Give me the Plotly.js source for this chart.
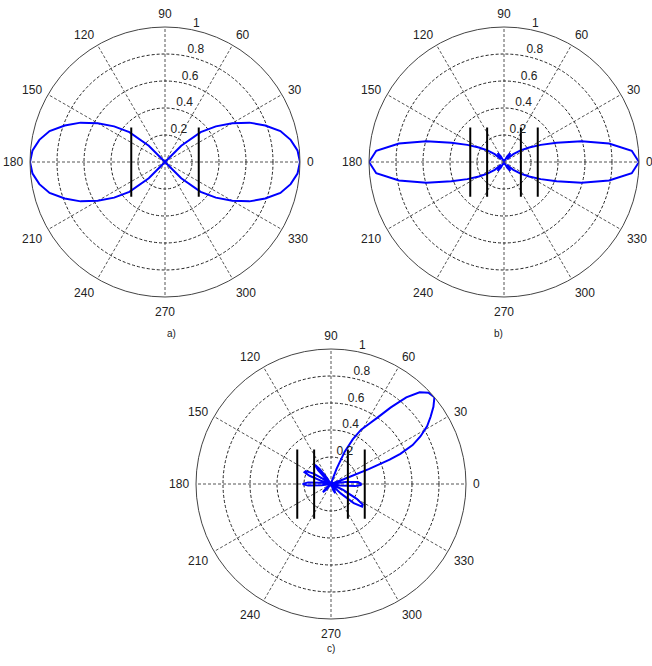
<!DOCTYPE html>
<html><head><meta charset="utf-8">
<script src="https://cdn.plot.ly/plotly-3.0.1.min.js"></script>
<style>html,body{margin:0;padding:0;background:#fff;}#chart{width:652px;height:666px;}</style>
</head><body><div id="chart"></div>
<script>
// ---- tick labels ----
const angleTicks = [0,30,60,90,120,150,180,210,240,270,300,330];
const angleTickText = ['0','30','60','90','120','150','180','210','240','270','300','330'];
const radialGrid = [0.2,0.4,0.6,0.8];
const radialLabelR = [0.2,0.4,0.6,0.8,1];
const radialLabelText = ['0.2','0.4','0.6','0.8','1'];
const radialLabelAngle = [78,78,78,78,78];
const captions = ['a)','b)','c)'];

// ---- pattern a) ----
const thetaA = [0,5,10,15,20,25,30,35,40,45,50,55,60,65,70,75,80,85,90,
  95,100,105,110,115,120,125,130,135,140,145,150,155,160,165,170,175,180,
  185,190,195,200,205,210,215,220,225,230,235,240,245,250,255,260,265,270,
  275,280,285,290,295,300,305,310,315,320,325,330,335,340,345,350,355,360];
const rA = [1.00,0.985,0.945,0.885,0.79,0.69,0.575,0.46,0.345,0.17,0,0,0,0,0,0,0,0,0,
  0,0,0,0,0,0,0,0,0.17,0.345,0.46,0.575,0.69,0.79,0.885,0.945,0.985,1.00,
  0.985,0.945,0.885,0.79,0.69,0.575,0.46,0.345,0.17,0,0,0,0,0,0,0,0,0,
  0,0,0,0,0,0,0,0,0.17,0.345,0.46,0.575,0.69,0.79,0.885,0.945,0.985,1.00];

// ---- pattern b) ----
const thetaB = thetaA.slice();
const rB = [1.0,0.95,0.79,0.595,0.415,0.3,0.215,0.15,0.09,0.03,0.06,0.08,0.05,0.015,0.01,0.015,0.015,0.01,0.01,
  0.01,0.015,0.015,0.01,0.015,0.05,0.08,0.06,0.03,0.09,0.15,0.215,0.3,0.415,0.595,0.79,0.95,1.0,
  0.95,0.79,0.595,0.415,0.3,0.215,0.15,0.09,0.03,0.06,0.08,0.05,0.015,0.01,0.015,0.015,0.01,0.01,
  0.01,0.015,0.015,0.01,0.015,0.05,0.08,0.06,0.03,0.09,0.15,0.215,0.3,0.415,0.595,0.79,0.95,1.0];

// ---- pattern c) ----
const thetaC = [0,4,8,11,15,19,20.5,21.5,22.5,23.5,25.5,28,31,34,37,40,43,46,49,52,55,58,61,64,67,70,72,75,
  100,120,124,127,130,133,136,140,145,149,153,156,159,162,165,170,173,176,180,184,187,190,
  215,220,225,230,235,285,290,295,300,305,312,316,320,324,327,330,334,338,347,351,355,358,360];
const rC = [0.226,0.2,0.11,0.03,0,0,0.1,0.3,0.47,0.56,0.67,0.75,0.83,0.89,0.95,1.0,0.99,0.945,0.85,0.72,0.6,0.52,0.46,0.37,0.26,0.12,0.03,0,
  0,0,0.06,0.14,0.185,0.14,0.05,0,0.04,0.15,0.21,0.215,0.17,0.08,0,0,0.07,0.17,0.21,0.17,0.07,0,
  0,0.05,0.085,0.05,0,0,0.05,0.075,0.05,0,0,0.1,0.22,0.285,0.28,0.22,0.1,0,0,0.07,0.18,0.22,0.226];

// ---- element positions (vertical bars) ----
const elemXA = [-0.25, 0.25];
const elemXB = [-0.25, -0.125, 0.125, 0.25];
const elemXC = [-0.25, -0.125, 0.125, 0.25];
const elemTop = 0.255;
const elemBottom = -0.258;

function elemTrace(xs, sub){
  const r=[], t=[];
  xs.forEach(x=>{
    [elemTop, elemBottom].forEach(y=>{
      r.push(Math.sqrt(x*x+y*y));
      t.push(Math.atan2(y,x)*180/Math.PI);
    });
    r.push(null); t.push(null);
  });
  return {type:'scatterpolar', mode:'lines', r:r, theta:t, subplot:sub,
    line:{color:'#000', width:2}, connectgaps:false, hoverinfo:'skip', cliponaxis:false};
}
function patternTrace(th, rr, sub){
  return {type:'scatterpolar', mode:'lines', r:rr, theta:th, subplot:sub,
    line:{color:'#0000ff', width:2}, hoverinfo:'skip', cliponaxis:false};
}
function labelTrace(sub){
  return {type:'scatterpolar', mode:'text', r:radialLabelR, theta:radialLabelAngle,
    text:radialLabelText, textposition:'top right', subplot:sub, cliponaxis:false,
    textfont:{family:'Liberation Sans, Arial, sans-serif', size:12, color:'#222'}, hoverinfo:'skip'};
}
const W=652, H=666;
function polarLayout(cx, cy, R){
  return {
    domain:{x:[(cx-R)/W,(cx+R)/W], y:[(H-cy-R)/H,(H-cy+R)/H]},
    bgcolor:'#fff',
    radialaxis:{range:[0,1], tickmode:'array', tickvals:radialGrid, showticklabels:false,
      ticks:'', showline:false, showgrid:true, gridcolor:'#222', gridwidth:1, griddash:'3px,2px'},
    angularaxis:{tickmode:'array', tickvals:angleTicks, ticktext:angleTickText,
      direction:'counterclockwise', rotation:0, showline:true, linecolor:'#444', linewidth:1,
      showgrid:true, gridcolor:'#555', gridwidth:1, griddash:'3px,2px',
      ticks:'outside', ticklen:4, tickcolor:'rgba(0,0,0,0)',
      tickfont:{family:'Liberation Sans, Arial, sans-serif', size:12, color:'#222'}}
  };
}
const data = [
  patternTrace(thetaA, rA, 'polar'), elemTrace(elemXA, 'polar'), labelTrace('polar'),
  patternTrace(thetaB, rB, 'polar2'), elemTrace(elemXB, 'polar2'), labelTrace('polar2'),
  patternTrace(thetaC, rC, 'polar3'), elemTrace(elemXC, 'polar3'), labelTrace('polar3')
];
const capFont = {family:'Liberation Sans, Arial, sans-serif', size:10, color:'#222'};
const layout = {
  width:W, height:H, margin:{l:0,r:0,t:0,b:0}, paper_bgcolor:'#fff', showlegend:false,
  polar: polarLayout(165,162,135),
  polar2: polarLayout(504,162,135),
  polar3: polarLayout(331,484,135),
  annotations:[
    {text:captions[0], x:165/W, y:1-333/H, xref:'paper', yref:'paper', showarrow:false, font:capFont},
    {text:captions[1], x:505/W, y:1-333/H, xref:'paper', yref:'paper', showarrow:false, font:capFont},
    {text:captions[2], x:331/W, y:1-656/H, xref:'paper', yref:'paper', showarrow:false, font:capFont}
  ]
};
Plotly.newPlot('chart', data, layout, {staticPlot:true, displayModeBar:false});
</script></body></html>
